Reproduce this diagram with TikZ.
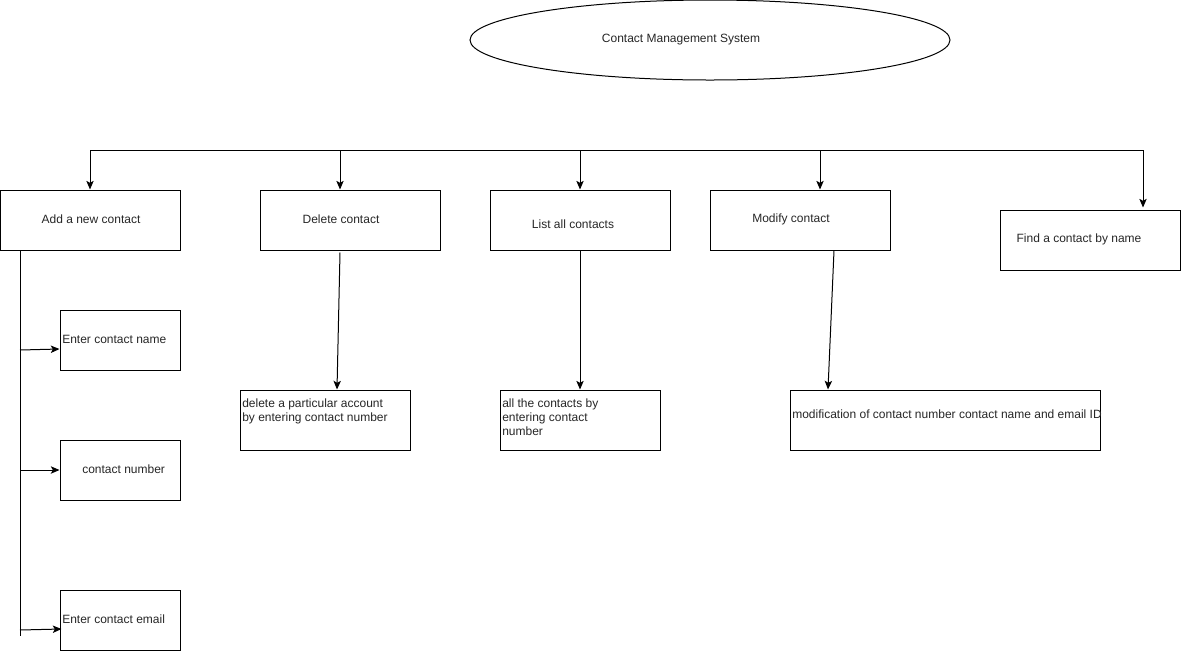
\documentclass[tikz,border=0pt]{standalone}
\usepackage{fontspec}
\setmainfont{Liberation Sans}
\usetikzlibrary{shapes.geometric,arrows.meta}
\begin{document}
\begin{tikzpicture}[x=0.75pt,y=-0.75pt,
  every node/.style={font=\fontsize{9}{10.5}\selectfont, text=black!85},
  box/.style={draw=black, line width=0.75pt, rectangle, inner sep=0pt, minimum width=#1*0.75pt},
  box/.default=180,
  bh/.style={minimum height=45pt},
  lbl/.style={inner sep=0pt, anchor=west, align=left},
  mlbl/.style={inner sep=0pt, anchor=north west, align=left, font=\fontsize{9}{10.5}\selectfont},
  ctr/.style={inner sep=0pt},
  line/.style={draw=black, line width=0.75pt},
  arr/.style={line, -{Stealth[length=6.5pt,width=5.5pt,inset=1.5pt]}}]
\useasboundingbox (0,0) rectangle (1181,651);
% title
\node[ellipse, draw=black, line width=0.75pt, minimum width=360pt, minimum height=60pt, inner sep=0pt] (sys) at (710,40) {};
\node[ctr] (systxt) at (681,40) {Contact Management System};
% first level boxes
\node[box, bh] (add) at (90,220) {};
\node[ctr] (addt) at (91,219) {Add a new contact};
\node[box, bh] (del) at (350,220) {};
\node[ctr] (delt) at (341,219) {Delete contact};
\node[box, bh] (list) at (580,220) {};
\node[ctr] (listt) at (573,224) {List all contacts};
\node[box, bh] (mod) at (800,220) {};
\node[ctr] (modt) at (791,219) {Modify contact};
\node[box, bh] (find) at (1090,240) {};
\node[ctr] (findt) at (1079,239) {Find a contact by name};
% sub boxes
\node[box=120, bh] (name) at (120,340) {};
\node[lbl] (namet) at (62,339) {Enter contact name};
\node[box=120, bh] (num) at (120,470) {};
\node[lbl] (numt) at (82,469) {contact number};
\node[box=120, bh] (email) at (120,620) {};
\node[lbl] (emailt) at (62,619) {Enter contact email};
\node[box=170, bh] (delacc) at (325,420) {};
\node[mlbl] (delacct) at (242,398.5) {delete a particular account\\by entering contact number};
\node[box=160, bh] (all) at (580,420) {};
\node[mlbl] (allt) at (502,398.5) {all the contacts by\\entering contact\\number};
\node[box=310, bh] (modif) at (945,420) {};
\node[lbl] (modift) at (792,414) {modification of contact number contact name and email ID};
% bus
\coordinate (b1) at (90,150);
\coordinate (b2) at (340,150);
\coordinate (b3) at (580,150);
\coordinate (b4) at (820,150);
\coordinate (b5) at (1143,150);
\draw[line] (b1) -- (b5);
\draw[arr] (b1) -- (b1 |- add.north);
\draw[arr] (b2) -- (b2 |- del.north);
\draw[arr] (b3) -- (b3 |- list.north);
\draw[arr] (b4) -- (b4 |- mod.north);
\draw[arr] (b5) -- ([yshift=1.5pt]b5 |- find.north);
% left spine
\coordinate (v0) at (20,250);
\coordinate (v1) at (20,636);
\coordinate (j1) at (20,350);
\coordinate (j2) at (20,470);
\coordinate (j3) at (20,630);
\draw[line] (v0) -- (v1);
\draw[arr] (j1) -- ([yshift=0.75pt]j1 -| name.west);
\draw[arr] (j2) -- (j2 -| num.west);
\draw[arr] (j3) -- ([xshift=1.5pt,yshift=0.75pt]j3 -| email.west);
% descending connectors
\draw[arr] ([xshift=-7.5pt,yshift=-1.5pt]del.south) -- ([xshift=9pt]delacc.north);
\draw[arr] (list.south) -- (all.north);
\draw[arr] ([xshift=25.5pt]mod.south) -- ([xshift=-87.75pt]modif.north);
\end{tikzpicture}
\end{document}
